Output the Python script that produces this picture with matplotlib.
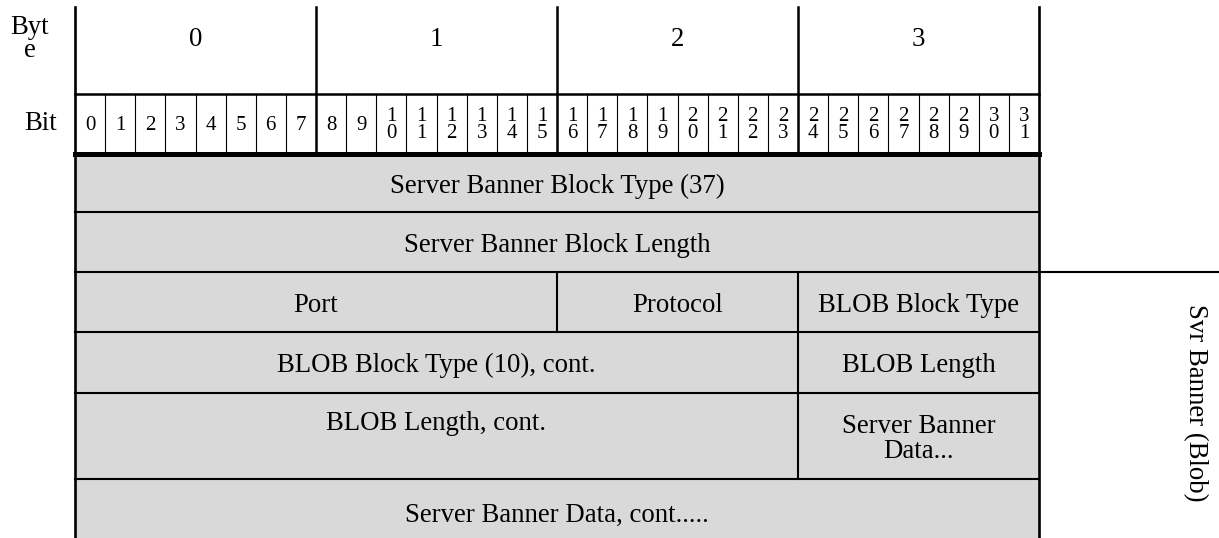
import matplotlib
matplotlib.use("Agg")
import matplotlib.pyplot as plt
from matplotlib.patches import Rectangle

plt.rcParams['font.family'] = ['Liberation Serif', 'DejaVu Serif']

# header labels
byte_labels = ["0", "1", "2", "3"]
bit_labels = ["\n".join(str(i)) for i in range(32)]

# rows of the packet: (row height in px, [(start bit, bit count, label), ...])
row_heights = [57, 60, 60, 61, 86, 66]
row_fields = [
    [(0, 32, "Server Banner Block Type (37)")],
    [(0, 32, "Server Banner Block Length")],
    [(0, 16, "Port"), (16, 8, "Protocol"), (24, 8, "BLOB Block Type")],
    [(0, 24, "BLOB Block Type (10), cont."), (24, 8, "BLOB Length")],
    [(0, 24, "BLOB Length, cont."), (24, 8, "Server Banner\nData...")],
    [(0, 32, "Server Banner Data, cont.....")],
]
side_label = "Svr Banner (Blob)"

# layout in pixels
W, H = 1219, 538
X0 = 75
BIT_W = (1039 - X0) / 32.0
TOP = 7
BYTE_ROW = 94
BIT_ROW = 155
GREY = "#d9d9d9"
FS = 19.3

def bx(bit):
    return X0 + bit * BIT_W

fig = plt.figure(figsize=(W / 100, H / 100), dpi=100)
ax = fig.add_axes([0, 0, 1, 1])
ax.set_xlim(0, W)
ax.set_ylim(H, 0)
ax.axis("off")

X1 = bx(32)

# grey body
ax.add_patch(Rectangle((X0, BIT_ROW), X1 - X0, H - BIT_ROW + 5,
                       facecolor=GREY, edgecolor="none", zorder=0))

# header text
ax.text(30, 39, "Byt\ne", ha="center", va="center", fontsize=FS,
        linespacing=0.92)
ax.text(41, 124, "Bit", ha="center", va="center", fontsize=FS)
for i, lab in enumerate(byte_labels):
    ax.text(bx(i * 8 + 4), 39, lab, ha="center", va="center", fontsize=FS)
for i, lab in enumerate(bit_labels):
    ax.text(bx(i + 0.5), 125, lab, ha="center", va="center", fontsize=15,
            linespacing=0.82)

# header lines
ax.plot([X0, X1], [BYTE_ROW, BYTE_ROW], color="black", lw=1.8)
for i in range(1, 32):
    if i % 8:
        ax.plot([bx(i), bx(i)], [BYTE_ROW, BIT_ROW], color="black", lw=0.8)
for i in range(1, 4):
    ax.plot([bx(i * 8), bx(i * 8)], [TOP, BIT_ROW], color="black", lw=1.8)
ax.plot([X0, X1], [BIT_ROW - 1, BIT_ROW - 1], color="black", lw=3.6)

# rows
y = BIT_ROW
for h, fields in zip(row_heights, row_fields):
    for start, n, lab in fields:
        if start > 0:
            ax.plot([bx(start), bx(start)], [y, y + h], color="black", lw=1.5)
        if h > 70 and "\n" not in lab:
            ty = y + 31
        else:
            ty = y + h / 2 + 3
        ax.text(bx(start + n / 2), ty, lab, ha="center", va="center",
                fontsize=FS, linespacing=1.02)
    y += h
    if y < H:
        ax.plot([X0, X1], [y, y], color="black", lw=1.5)

# outer verticals
ax.plot([X0, X0], [TOP, H], color="black", lw=1.9)
ax.plot([X1, X1], [TOP, H], color="black", lw=1.9)

# side bracket line and label
y_side = BIT_ROW + sum(row_heights[:2])
ax.plot([X1, W], [y_side, y_side], color="black", lw=1.5)
ax.text(1195, 403, side_label, ha="center", va="center", fontsize=FS,
        rotation=-90)

fig.savefig("out.png", dpi=100)
